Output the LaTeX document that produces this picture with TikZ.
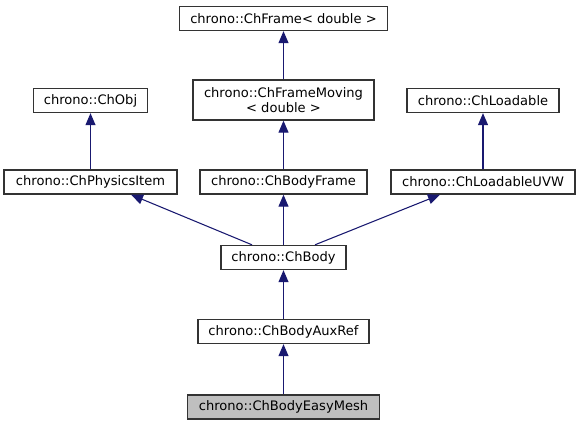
\documentclass[tikz,border=0pt]{standalone}
\usepackage{fontspec}
\setmainfont{DejaVu Sans}
\usetikzlibrary{arrows.meta}
\definecolor{midnight}{HTML}{191970}
\definecolor{boxline}{HTML}{333333}

\begin{document}
\begin{tikzpicture}[x=0.75pt,y=-0.75pt,
	cls/.style={draw=boxline, line width=1pt, fill=white, inner sep=0pt,
		minimum width=#1, minimum height=18pt, align=center,
		font=\fontsize{9.8}{11.2}\selectfont},
	edge/.style={draw=midnight, line width=0.8pt,
		-{Triangle[length=9pt,width=7.5pt]}}]
	%\draw[help lines] (0,0) grid (578,425);
	\useasboundingbox (0,0) rectangle (578,425);
	
	\node[cls=156pt] (frame) at (283.5,18.5) {chrono::ChFrame< double >};
	\node[cls=135.75pt, minimum height=30pt] (moving) at (283.5,100) {chrono::ChFrameMoving\\< double >};
	\node[cls=85.5pt] (obj) at (90.5,100.5) {chrono::ChObj};
	\node[cls=114pt] (loadable) at (483,100.5) {chrono::ChLoadable};
	\node[cls=129.75pt] (phys) at (90.5,182) {chrono::ChPhysicsItem};
	\node[cls=125.25pt] (bframe) at (283.5,182) {chrono::ChBodyFrame};
	\node[cls=138pt] (uvw) at (483,182) {chrono::ChLoadableUVW};
	\node[cls=93.75pt] (body) at (283.5,257.5) {chrono::ChBody};
	\node[cls=128.25pt] (aux) at (283.5,331.5) {chrono::ChBodyAuxRef};
	{\tikzset{cls/.append style={fill=black!25}} \node[cls=144pt] (mesh) at (283.5,407) {chrono::ChBodyEasyMesh};}
	
	\foreach \c/\p in {moving/frame,phys/obj,uvw/loadable,bframe/moving,body/bframe,aux/body,mesh/aux}{\draw[edge] (\c) -- (\p);};
	\draw[edge] ([xshift=-23.6pt]body.north) -- ([xshift=30.4pt]phys.south);
	\draw[edge] ([xshift=23.6pt]body.north) -- ([xshift=-32.25pt]uvw.south);
\end{tikzpicture}
\end{document}
